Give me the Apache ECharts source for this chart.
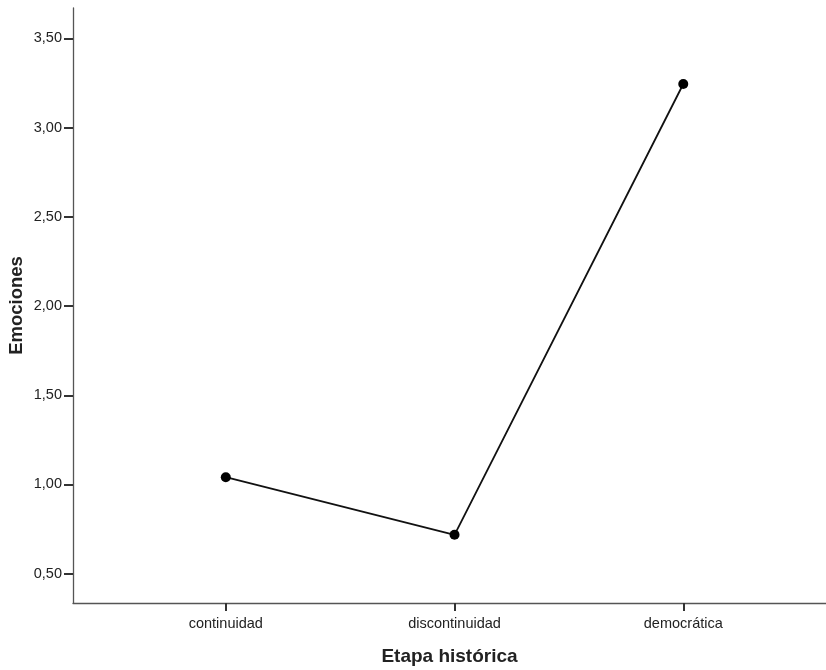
<!DOCTYPE html>
<html>
<head>
<meta charset="utf-8">
<script src="https://cdn.jsdelivr.net/npm/echarts@6/dist/echarts.min.js"></script>
<style>html,body{margin:0;padding:0;background:#fff}#c{width:826px;height:670px}</style>
</head>
<body>
<div id="c"></div>
<script>
const categories = ['continuidad', 'discontinuidad', 'democrática'];
const values = [1.041, 0.718, 3.244];
const yTicks = [0.5, 1.0, 1.5, 2.0, 2.5, 3.0, 3.5];
const xTicks = [1, 2, 3];

const chart = echarts.init(document.getElementById('c'));
chart.setOption({
  animation: false,
  backgroundColor: '#fff',
  grid: { left: 73, right: 0, top: 8, bottom: 67, containLabel: false, outerBoundsMode: 'none' },
  xAxis: {
    type: 'value', min: 0.332, max: 3.624,
    name: 'Etapa histórica', nameLocation: 'middle', nameGap: 44, nameMoveOverlap: false,
    nameTextStyle: { fontFamily: 'Liberation Sans', fontSize: 19, fontWeight: 'bold', color: '#222' },
    axisLine: { show: true, lineStyle: { color: '#555', width: 1.3 } },
    axisTick: { show: true, length: 8, customValues: xTicks, lineStyle: { color: '#333', width: 2 } },
    axisLabel: { customValues: xTicks, margin: 13, fontFamily: 'Liberation Sans', fontSize: 14.5, color: '#222',
      formatter: v => categories[Math.round(v) - 1] || '' },
    splitLine: { show: false }
  },
  yAxis: {
    type: 'value', min: 0.336, max: 3.67,
    name: 'Emociones', nameLocation: 'middle', nameGap: 47, nameRotate: 90, nameMoveOverlap: false,
    nameTextStyle: { fontFamily: 'Liberation Sans', fontSize: 18.5, fontWeight: 'bold', color: '#222' },
    axisLine: { show: true, lineStyle: { color: '#555', width: 1.3 } },
    axisTick: { show: true, length: 9, customValues: yTicks, lineStyle: { color: '#333', width: 2 } },
    axisLabel: { customValues: yTicks, margin: 11, fontFamily: 'Liberation Sans', fontSize: 14.5, color: '#222',
      formatter: v => v.toFixed(2).replace('.', ',') },
    splitLine: { show: false }
  },
  series: [{
    type: 'line',
    data: xTicks.map((x, i) => [x, values[i]]),
    symbol: 'circle', symbolSize: 10,
    lineStyle: { color: '#111', width: 1.8 },
    itemStyle: { color: '#000' }
  }]
});
</script>
</body>
</html>
